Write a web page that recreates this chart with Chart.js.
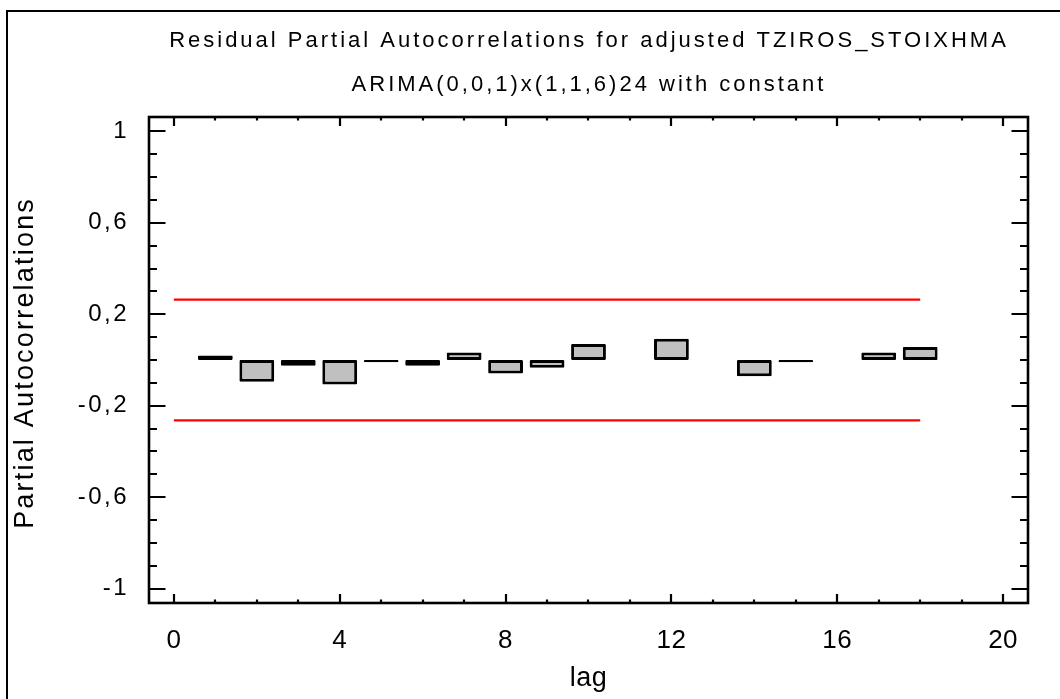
<!DOCTYPE html>
<html>
<head>
<meta charset="utf-8">
<title>Residual Partial Autocorrelations</title>
<script src="https://cdn.jsdelivr.net/npm/chart.js@4"></script>
<style>
  html, body { margin: 0; padding: 0; background: #ffffff; }
  canvas { display: block; }
</style>
</head>
<body>
<canvas id="pacf" width="1060" height="699"></canvas>
<script>
// Residual partial autocorrelations per lag (null = no bar drawn)
const LAGS = [1, 2, 3, 4, 5, 6, 7, 8, 9, 10, 11, 12, 13, 14, 15, 16, 17, 18];
const PACF = [0.020, -0.095, -0.025, -0.107, -0.010, -0.025, 0.033, -0.059, -0.034,
              0.070, null, 0.093, null, -0.071, -0.010, null, 0.033, 0.057];

// 95% probability limits
const LIMIT_LAGS  = [0, 18];
const LIMIT_UPPER = [0.264, 0.264];
const LIMIT_LOWER = [-0.264, -0.264];

// Axis ticks and labels
const X_TICKS = [0, 4, 8, 12, 16, 20];
const X_TICK_LABELS = ['0', '4', '8', '12', '16', '20'];
const Y_TICKS = [-1, -0.6, -0.2, 0.2, 0.6, 1];
const Y_TICK_LABELS = ['-1', '-0,6', '-0,2', '0,2', '0,6', '1'];

const TITLE_LINES = ['Residual Partial Autocorrelations for adjusted TZIROS_STOIXHMA',
                     'ARIMA(0,0,1)x(1,1,6)24 with constant'];
const X_TITLE = 'lag';
const Y_TITLE = 'Partial Autocorrelations';

const FONT = '"Liberation Sans", Arial, Helvetica, sans-serif';

// Draws tick labels of a scale with extra letter spacing
function spaceLabels(scale, spacing) {
  if (scale._spaced) return;
  const orig = scale.drawLabels;
  scale.drawLabels = function (area) {
    const c = this.ctx;
    c.save();
    c.letterSpacing = spacing + 'px';
    orig.call(this, area);
    c.restore();
  };
  scale._spaced = true;
}

// Frame, inward ticks on all four sides, titles and the page border
const framePlugin = {
  id: 'frame',
  beforeDraw(chart) {
    const ctx = chart.ctx;
    ctx.save();
    ctx.fillStyle = '#ffffff';
    ctx.fillRect(0, 0, chart.width, chart.height);
    ctx.restore();
  },
  afterDraw(chart) {
    const { ctx, chartArea: a, scales: { x, y } } = chart;
    ctx.save();
    ctx.strokeStyle = '#000000';
    ctx.lineCap = 'butt';

    // outer page border
    ctx.lineWidth = 2;
    ctx.beginPath();
    ctx.moveTo(7, chart.height);
    ctx.lineTo(7, 11);
    ctx.lineTo(chart.width, 11);
    ctx.stroke();

    // plot frame
    ctx.lineWidth = 2.6;
    ctx.strokeRect(a.left, a.top, a.right - a.left, a.bottom - a.top);

    // x ticks: major every 4, minor every 1
    ctx.lineWidth = 2.2;
    ctx.beginPath();
    for (let v = 0; v <= 20; v++) {
      const px = Math.round(x.getPixelForValue(v));
      const len = v % 4 === 0 ? 9 : 3.5;
      ctx.moveTo(px, a.bottom); ctx.lineTo(px, a.bottom - len);
      ctx.moveTo(px, a.top);    ctx.lineTo(px, a.top + len);
    }
    // y ticks: major every 0.4, minor every 0.1
    for (let k = -10; k <= 10; k++) {
      const py = Math.round(y.getPixelForValue(k / 10));
      const len = (k + 10) % 4 === 0 ? 16.5 : 8;
      ctx.moveTo(a.left, py);  ctx.lineTo(a.left + len, py);
      ctx.moveTo(a.right, py); ctx.lineTo(a.right - len, py);
    }
    ctx.stroke();

    // titles
    const cx = (a.left + a.right) / 2 - 1;
    ctx.fillStyle = '#000000';
    ctx.textAlign = 'center';
    ctx.textBaseline = 'alphabetic';
    ctx.font = '22px ' + FONT;
    ctx.letterSpacing = '3px';
    ctx.fillText(TITLE_LINES[0], cx + 1.5, 47);
    ctx.fillText(TITLE_LINES[1], cx + 1.5, 90.5);

    // x axis title
    ctx.font = '27px ' + FONT;
    ctx.letterSpacing = '0.5px';
    ctx.fillText(X_TITLE, cx + 1, 686);

    // y axis title
    ctx.save();
    ctx.translate(33, 364);
    ctx.rotate(-Math.PI / 2);
    ctx.font = '27px ' + FONT;
    ctx.letterSpacing = '2.2px';
    ctx.fillText(Y_TITLE, 1.1, 0);
    ctx.restore();

    ctx.restore();
  }
};

const barData = LAGS.map((lag, i) => ({ x: lag, y: PACF[i] })).filter(p => p.y !== null);

new Chart(document.getElementById('pacf'), {
  type: 'bar',
  data: {
    datasets: [
      {
        type: 'line',
        data: LIMIT_LAGS.map((lag, i) => ({ x: lag, y: LIMIT_UPPER[i] })),
        borderColor: '#ff0000',
        borderWidth: 2.2,
        pointRadius: 0,
        fill: false,
        order: 1
      },
      {
        type: 'line',
        data: LIMIT_LAGS.map((lag, i) => ({ x: lag, y: LIMIT_LOWER[i] })),
        borderColor: '#ff0000',
        borderWidth: 2.2,
        pointRadius: 0,
        fill: false,
        order: 1
      },
      {
        type: 'bar',
        data: barData,
        backgroundColor: '#c0c0c0',
        borderColor: '#000000',
        borderWidth: 3,
        borderSkipped: false,
        borderRadius: 1,
        barPercentage: 0.84,
        categoryPercentage: 1,
        order: 2
      }
    ]
  },
  options: {
    responsive: false,
    animation: false,
    devicePixelRatio: 1,
    layout: { padding: { top: 117, right: 32, left: 0, bottom: 0 } },
    plugins: {
      legend: { display: false },
      tooltip: { enabled: false },
      title: { display: false }
    },
    scales: {
      x: {
        type: 'linear',
        min: -0.6,
        max: 20.6,
        offset: false,
        grid: { display: false, offset: false },
        border: { display: false },
        afterBuildTicks: s => { s.ticks = X_TICKS.map(v => ({ value: v })); },
        afterFit: s => { s.height = 96; spaceLabels(s, 0.5); },
        ticks: {
          autoSkip: false,
          maxRotation: 0,
          color: '#000000',
          padding: 14,
          font: { family: FONT, size: 26 },
          callback: (v, i) => X_TICK_LABELS[i]
        }
      },
      y: {
        type: 'linear',
        min: -1.063,
        max: 1.063,
        grid: { display: false },
        border: { display: false },
        afterBuildTicks: s => { s.ticks = Y_TICKS.map(v => ({ value: v })); },
        afterFit: s => { s.width = 149; spaceLabels(s, 2.5); },
        ticks: {
          autoSkip: false,
          color: '#000000',
          padding: 12,
          font: { family: FONT, size: 24 },
          callback: (v, i) => Y_TICK_LABELS[i]
        }
      }
    }
  },
  plugins: [framePlugin]
});
</script>
</body>
</html>
